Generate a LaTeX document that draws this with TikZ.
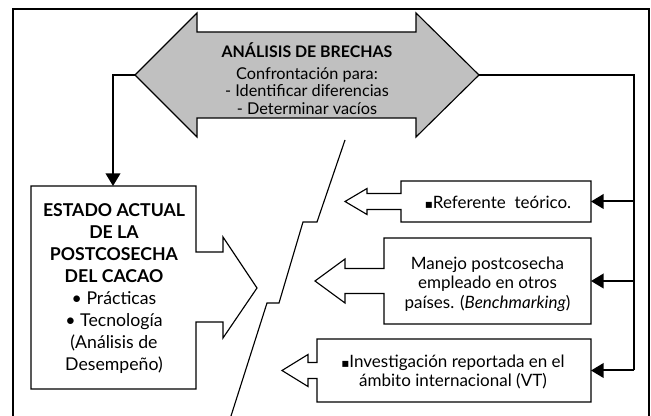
\documentclass[tikz,border=0pt]{standalone}
\usepackage{fontspec}
\setmainfont{Lato}
\newfontfamily\symf{DejaVu Sans}
\usetikzlibrary{arrows.meta}
\newcommand{\sqb}{{\symf\small ▪}}
\newlength\wa \newlength\wb \newlength\wc
\begin{document}
% --- calibrate font sizes to the widths of the reference texts
\settowidth\wa{\fontsize{10}{12}\selectfont Manejo postcosecha}%
\settowidth\wb{\fontsize{10}{12}\selectfont empleado en otros}%
\pgfmathsetmacro\szR{10*(112.5+106.5)/(\wa+\wb)}%
\settowidth\wa{\fontsize{10}{12}\selectfont\bfseries ESTADO ACTUAL}%
\pgfmathsetmacro\szL{10*106.5/\wa}%
\settowidth\wa{\fontsize{10}{12}\selectfont\bfseries ANÁLISIS DE BRECHAS}%
\pgfmathsetmacro\szT{10*128/\wa}%
\settowidth\wa{\fontsize{10}{12}\selectfont Confrontación para:}%
\settowidth\wb{\fontsize{10}{12}\selectfont - Identificar diferencias}%
\settowidth\wc{\fontsize{10}{12}\selectfont - Determinar vacíos}%
\pgfmathsetmacro\szB{10*(104+123+107)/(\wa+\wb+\wc)}%
\begin{tikzpicture}[x=0.75pt,y=-0.75pt,
  outline/.style={draw=black, line width=0.85pt, line join=miter},
  conn/.style={line width=1.5pt},
  tipped/.style={conn,-{Triangle[length=9.5pt,width=11pt]}},
  frame/.style={line width=2pt},
  txt/.style={align=center, inner sep=0pt}]
\useasboundingbox (0,0) rectangle (651,416);
\clip (0,0) rectangle (651,416);
% frame
\draw[frame] (13,430) -- (13,9) -- (649,9) -- (649,430);
% big double arrow
\draw[outline, fill={rgb,255:red,192;green,192;blue,192}]
  (135,75) -- (197,13) -- (197,32) -- (416,32) -- (416,13) -- (479,75)
  -- (416,137) -- (416,118) -- (197,118) -- (197,137) -- cycle;
\coordinate (bigL) at (135,75);
\coordinate (bigR) at (479,75);
\node[txt, font=\fontsize{\szT}{12}\selectfont\bfseries] (gapt) at (307,50) {ANÁLISIS DE BRECHAS};
\node[txt, font=\fontsize{\szB}{13.1}\selectfont] (gapb) at (307,91)
  {Confrontación para:\\ - Identificar diferencias\\ - Determinar vacíos};
% left box with arrow
\draw[outline] (31,186) -- (196,186) -- (196,252) -- (223,252) -- (223,237)
  -- (257,288) -- (223,338) -- (223,322) -- (196,322) -- (196,389) -- (31,389) -- cycle;
\coordinate (estTop) at (113,186);
\node[txt, font=\fontsize{\szL}{16.5}\selectfont] (estado) at (114,289)
  {\textbf{ESTADO ACTUAL}\\ \textbf{DE LA}\\ \textbf{POSTCOSECHA}\\ \textbf{DEL CACAO}\\
   • Prácticas\\ • Tecnología\\ (Análisis de\\ Desempeño)};
% jagged line
\draw[line width=0.85pt] (345,140) -- (317,222) -- (303,222) -- (279,303) -- (267,303) -- (231,416);
% right box 1
\draw[outline] (591,181) -- (591,222) -- (401,222) -- (401,209.5) -- (367,209.5) -- (367,214.5)
  -- (345,201.5) -- (367,188.5) -- (367,193.5) -- (401,193.5) -- (401,181) -- cycle;
\coordinate (r1) at (591,201.5);
\node[txt, font=\fontsize{\szR}{14.6}\selectfont] (ref) at (498,202) {\sqb Referente\ \ teórico.};
% right box 2
\draw[outline] (591,238) -- (591,324) -- (384,324) -- (384,293.5) -- (345,293.5) -- (345,303)
  -- (315,281) -- (345,259) -- (345,268.5) -- (384,268.5) -- (384,238) -- cycle;
\coordinate (r2) at (591,281);
\node[txt, font=\fontsize{\szR}{14.6}\selectfont] (man) at (487.5,284)
  {Manejo postcosecha\\ empleado en otros\\ países. (\textit{Benchmarking})};
% right box 3
\draw[outline] (591,339) -- (591,402) -- (317,402) -- (317,378.5) -- (308,378.5) -- (308,386.5)
  -- (282,370.5) -- (308,354.5) -- (308,362.5) -- (317,362.5) -- (317,339) -- cycle;
\coordinate (r3) at (591,370.5);
\node[txt, font=\fontsize{\szR}{14.6}\selectfont] (inv) at (453,372)
  {\sqb Investigación reportada en el\\ ámbito internacional (VT)};
% connectors
\draw[tipped] (bigL) -| (estTop);
\coordinate (b1) at (634,201.5);
\coordinate (b2) at (634,281);
\coordinate (b3) at (634,370.5);
\draw[conn] (bigR) -| (b3);
\draw[tipped] (b1) -- (r1);
\draw[tipped] (b2) -- (r2);
\draw[tipped] (b3) -- (r3);
\end{tikzpicture}
\end{document}
